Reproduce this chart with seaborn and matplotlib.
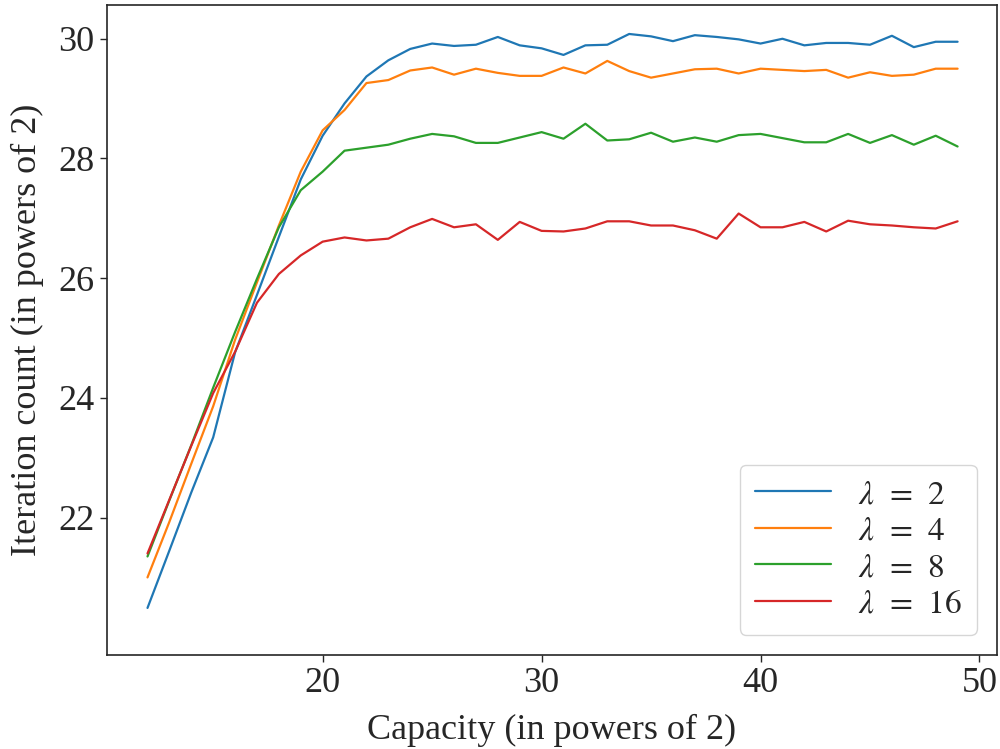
import numpy as np
import pandas as pd
import matplotlib
matplotlib.use("Agg")
import matplotlib.pyplot as plt
import seaborn as sns

capacity = list(range(12, 50))

lam2 = [20.49, 21.45, 22.42, 23.34, 24.76, 25.72, 26.69, 27.65, 28.38, 28.92,
        29.37, 29.64, 29.83, 29.92, 29.88, 29.90, 30.03, 29.89, 29.84, 29.73,
        29.89, 29.90, 30.08, 30.04, 29.96, 30.06, 30.03, 29.99, 29.92, 30.00,
        29.89, 29.93, 29.93, 29.90, 30.05, 29.86, 29.95, 29.95]
lam4 = [21.00, 21.93, 22.90, 23.86, 24.97, 25.93, 26.88, 27.78, 28.47, 28.81,
        29.26, 29.31, 29.47, 29.52, 29.40, 29.50, 29.43, 29.38, 29.38, 29.52,
        29.42, 29.63, 29.46, 29.35, 29.42, 29.49, 29.50, 29.42, 29.50, 29.48,
        29.46, 29.48, 29.35, 29.44, 29.38, 29.40, 29.50, 29.50]
lam8 = [21.35, 22.29, 23.21, 24.17, 25.10, 25.99, 26.85, 27.47, 27.78, 28.13,
        28.18, 28.23, 28.33, 28.41, 28.37, 28.26, 28.26, 28.35, 28.44, 28.33,
        28.58, 28.30, 28.32, 28.43, 28.28, 28.35, 28.28, 28.39, 28.41, 28.34,
        28.27, 28.27, 28.41, 28.26, 28.39, 28.23, 28.38, 28.20]
lam16 = [21.40, 22.30, 23.20, 24.08, 24.77, 25.59, 26.07, 26.38, 26.61, 26.68,
         26.63, 26.66, 26.85, 26.99, 26.85, 26.90, 26.64, 26.94, 26.79, 26.78,
         26.83, 26.95, 26.95, 26.88, 26.88, 26.80, 26.66, 27.08, 26.85, 26.85,
         26.94, 26.78, 26.96, 26.90, 26.88, 26.85, 26.83, 26.95]

labels = [r"$\lambda\;\,=\;\,2$", r"$\lambda\;\,=\;\,4$",
          r"$\lambda\;\,=\;\,8$", r"$\lambda\;\,=\;\,16$"]
series = [lam2, lam4, lam8, lam16]

frames = []
for lab, vals in zip(labels, series):
    frames.append(pd.DataFrame({"capacity": capacity, "count": vals, "series": lab}))
df = pd.concat(frames, ignore_index=True)

sns.set_style("ticks")
plt.rcParams["font.family"] = ["Liberation Serif", "DejaVu Serif"]
plt.rcParams["mathtext.fontset"] = "stix"

fig, ax = plt.subplots(figsize=(10, 7.49), dpi=100)
fig.subplots_adjust(left=0.107, right=0.997, top=0.993, bottom=0.126)

sns.lineplot(data=df, x="capacity", y="count", hue="series",
             palette="tab10", hue_order=labels, ax=ax, linewidth=1.6)

ax.set_xlabel("Capacity (in powers of 2)", fontsize=26, labelpad=10)
ax.set_ylabel("Iteration count (in powers of 2)", fontsize=26, labelpad=10)
ax.set_xticks([20, 30, 40, 50])
ax.set_yticks([22, 24, 26, 28, 30])
ax.tick_params(labelsize=26, length=5, width=1.0, direction="out", pad=4)
ax.set_xlim(10.15, 50.8)
ax.set_ylim(19.71, 30.56)
for s in ax.spines.values():
    s.set_visible(True)
    s.set_linewidth(1.2)

ax.legend(loc="lower right", fontsize=24, handlelength=2.3,
          labelspacing=0.18, frameon=True, fancybox=True,
          borderpad=0.45, handletextpad=0.8, borderaxespad=0.6, title=None)

fig.savefig("out.png", dpi=100)
